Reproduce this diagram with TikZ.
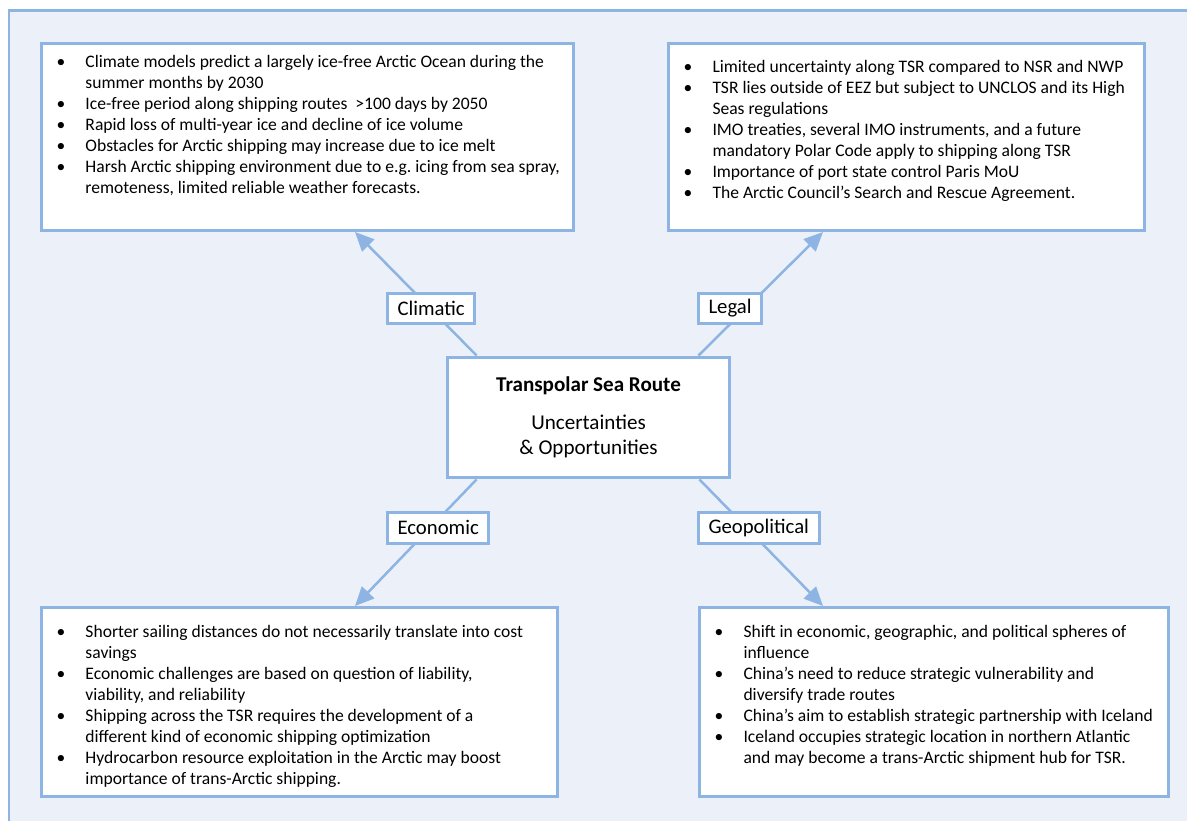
\documentclass[tikz,border=0pt]{standalone}
\usepackage{fontspec}
\setmainfont{Carlito}
\usepackage{enumitem}
\usetikzlibrary{arrows.meta, calc}
\definecolor{frameblue}{HTML}{8DB4E2}
\definecolor{paleblue}{HTML}{ECF1F9}
\newdimen\pxu \pxu=0.02cm
\setlist[itemize]{label=\textbullet, leftmargin=44\pxu, labelsep=15\pxu, labelwidth=14\pxu, align=left, itemsep=0pt, parsep=0pt, topsep=0pt, partopsep=0pt}
% height, width, top gap, items
\newcommand{\boxtext}[4]{\parbox[c][#1\pxu][t]{#2\pxu}{\raggedright\vspace*{#3\pxu}\begin{itemize}#4\end{itemize}}}

\begin{document}
\begin{tikzpicture}[x=0.02cm, y=-0.02cm,
  infobox/.style={draw=frameblue, line width=0.06cm, fill=white, inner sep=0pt, anchor=north west, font=\fontsize{10}{11.9}\selectfont},
  hub/.style={draw=frameblue, line width=0.06cm, fill=white, minimum width=5.66cm, minimum height=2.42cm, align=center, font=\fontsize{12}{14.2}\selectfont},
  tag/.style={draw=frameblue, line width=0.06cm, fill=white, anchor=west, inner xsep=0.2cm, minimum height=0.62cm, font=\fontsize{11.8}{14}\selectfont},
  arrow/.style={-{Triangle[length=0.38cm, width=0.34cm]}, draw=frameblue, line width=0.05cm}
]
  \clip (0,0) rectangle (1187,821);
  \draw[draw=frameblue, line width=0.06cm, fill=paleblue] (9,11) rectangle (1220,850);

  % Info boxes
  \node[infobox] (climbox) at (40,42) {\boxtext{187}{532}{12}{
    \item Climate models predict a largely ice-free Arctic Ocean during the\\ summer months by 2030
    \item Ice-free period along shipping routes\ \ >100 days by 2050
    \item Rapid loss of multi-year ice and decline of ice volume
    \item Obstacles for Arctic shipping may increase due to ice melt
    \item Harsh Arctic shipping environment due to e.g.\ icing from sea spray,\\ remoteness, limited reliable weather forecasts.}};
  \node[infobox] (legalbox) at (667,42) {\boxtext{187}{476}{17}{
    \item Limited uncertainty along TSR compared to NSR and NWP
    \item TSR lies outside of EEZ but subject to UNCLOS and its High\\ Seas regulations
    \item IMO treaties, several IMO instruments, and a future\\ mandatory Polar Code apply to shipping along TSR
    \item Importance of port state control Paris MoU
    \item The Arctic Council’s Search and Rescue Agreement.}};
  \node[infobox] (econbox) at (40,606) {\boxtext{189}{516}{18}{
    \item Shorter sailing distances do not necessarily translate into cost\\ savings
    \item Economic challenges are based on question of liability,\\ viability, and reliability
    \item Shipping across the TSR requires the development of a\\ different kind of economic shipping optimization
    \item Hydrocarbon resource exploitation in the Arctic may boost\\ importance of trans-Arctic shipping.}};
  \node[infobox] (geobox) at (698,606) {\boxtext{189}{469}{18}{
    \item Shift in economic, geographic, and political spheres of\\ influence
    \item China’s need to reduce strategic vulnerability and\\ diversify trade routes
    \item China’s aim to establish strategic partnership with Iceland
    \item Iceland occupies strategic location in northern Atlantic\\ and may become a trans-Arctic shipment hub for TSR.}};

  % Centre
  \node[hub] (tsr) at (588.5,417.5) {\textbf{Transpolar Sea Route}\\[13\pxu]Uncertainties\\\& Opportunities};

  % Arrows
  \draw[arrow] ($(tsr.north west)+(31,0)$) -- ($(climbox.south west)+(315,0)$);
  \draw[arrow] ($(tsr.north east)+(-33,0)$) -- ($(legalbox.south west)+(156,0)$);
  \draw[arrow] ($(tsr.south west)+(31,0)$) -- ($(econbox.north west)+(315,0)$);
  \draw[arrow] ($(tsr.south east)+(-32,0)$) -- ($(geobox.north west)+(125,0)$);

  % Tags
  \node[tag] (climatic) at (386,308.5) {Climatic};
  \node[tag] (legal) at (697,308.5) {Legal};
  \node[tag] (economic) at (386,527.5) {Economic};
  \node[tag] (geopolitical) at (697,527.5) {Geopolitical};
\end{tikzpicture}
\end{document}
